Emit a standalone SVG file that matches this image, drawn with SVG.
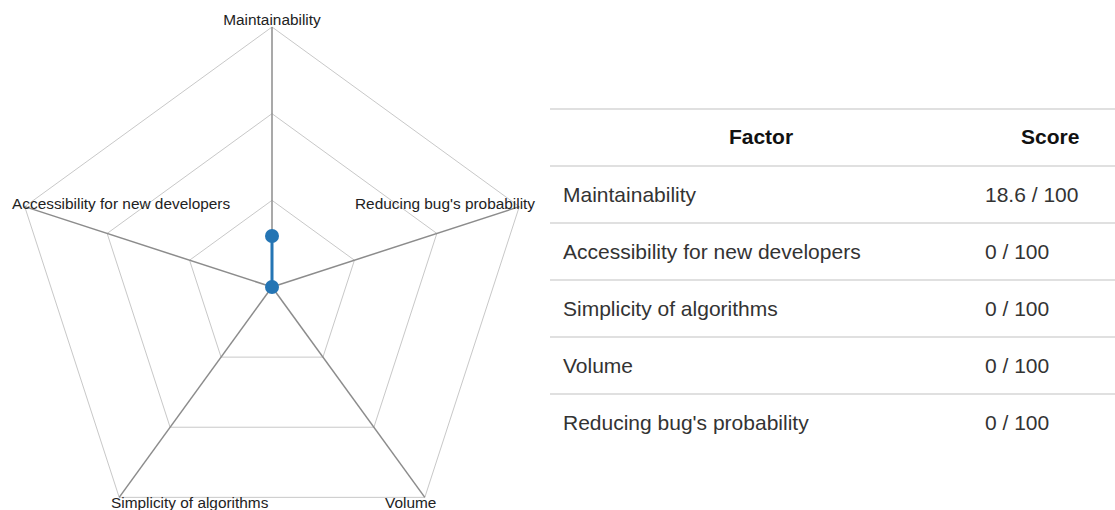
<svg xmlns="http://www.w3.org/2000/svg" width="1115" height="510" viewBox="0 0 1115 510">
<style>
.ring{fill:none;stroke:#c8c8c8;stroke-width:1}
.spoke{stroke:#8c8c8c;stroke-width:1.5}
.lbl{font-family:"Liberation Sans",Arial,sans-serif;font-size:15.4px;fill:#222}
.cell{font-family:"Liberation Sans",Arial,sans-serif;font-size:21px;fill:#333}
.head{font-family:"Liberation Sans",Arial,sans-serif;font-size:21px;font-weight:bold;fill:#111}
.rule{stroke:#e0e0e0;stroke-width:2}
.dot{fill:#2475b4}
</style>
<rect width="1115" height="510" fill="#fff"/>
<g id="radar">
<g id="rings">
<polygon class="ring" points="272,27 519.28,206.65 424.82,497.35 119.18,497.35 24.72,206.65"/>
<polygon class="ring" points="272,113.67 436.85,233.44 373.88,427.23 170.12,427.23 107.15,233.44"/>
<polygon class="ring" points="272,200.33 354.43,260.22 322.94,357.11 221.06,357.11 189.57,260.22"/>
</g>
<g id="connectors">
<line class="spoke" x1="272" y1="287" x2="272" y2="27"/>
<line class="spoke" x1="272" y1="287" x2="519.28" y2="206.65"/>
<line class="spoke" x1="272" y1="287" x2="424.82" y2="497.35"/>
<line class="spoke" x1="272" y1="287" x2="119.18" y2="497.35"/>
<line class="spoke" x1="272" y1="287" x2="24.72" y2="206.65"/>
</g>
<g id="data">
<polygon points="272,236 272,287 272,287 272,287 272,287" fill="none" stroke="#2475b4" stroke-width="3"/>
<circle class="dot" cx="272" cy="236" r="7"/>
<circle class="dot" cx="272" cy="287" r="7"/>
</g>
<g id="labels">
<text class="lbl" x="272" y="25" text-anchor="middle">Maintainability</text>
<text class="lbl" x="12" y="209">Accessibility for new developers</text>
<text class="lbl" x="355" y="209">Reducing bug's probability</text>
<text class="lbl" x="111" y="508">Simplicity of algorithms</text>
<text class="lbl" x="385" y="508">Volume</text>
</g>
</g>
<g id="table">
<line class="rule" x1="550" y1="109" x2="1115" y2="109"/>
<line class="rule" x1="550" y1="166" x2="1115" y2="166"/>
<line class="rule" x1="550" y1="223" x2="1115" y2="223"/>
<line class="rule" x1="550" y1="280" x2="1115" y2="280"/>
<line class="rule" x1="550" y1="337" x2="1115" y2="337"/>
<line class="rule" x1="550" y1="394" x2="1115" y2="394"/>
<text class="head" x="761" y="144" text-anchor="middle">Factor</text>
<text class="head" x="1021" y="144">Score</text>
<text class="cell" x="563" y="202">Maintainability</text>
<text class="cell" x="985" y="202">18.6 / 100</text>
<text class="cell" x="563" y="259">Accessibility for new developers</text>
<text class="cell" x="985" y="259">0 / 100</text>
<text class="cell" x="563" y="316">Simplicity of algorithms</text>
<text class="cell" x="985" y="316">0 / 100</text>
<text class="cell" x="563" y="373">Volume</text>
<text class="cell" x="985" y="373">0 / 100</text>
<text class="cell" x="563" y="430">Reducing bug's probability</text>
<text class="cell" x="985" y="430">0 / 100</text>
</g>
</svg>
